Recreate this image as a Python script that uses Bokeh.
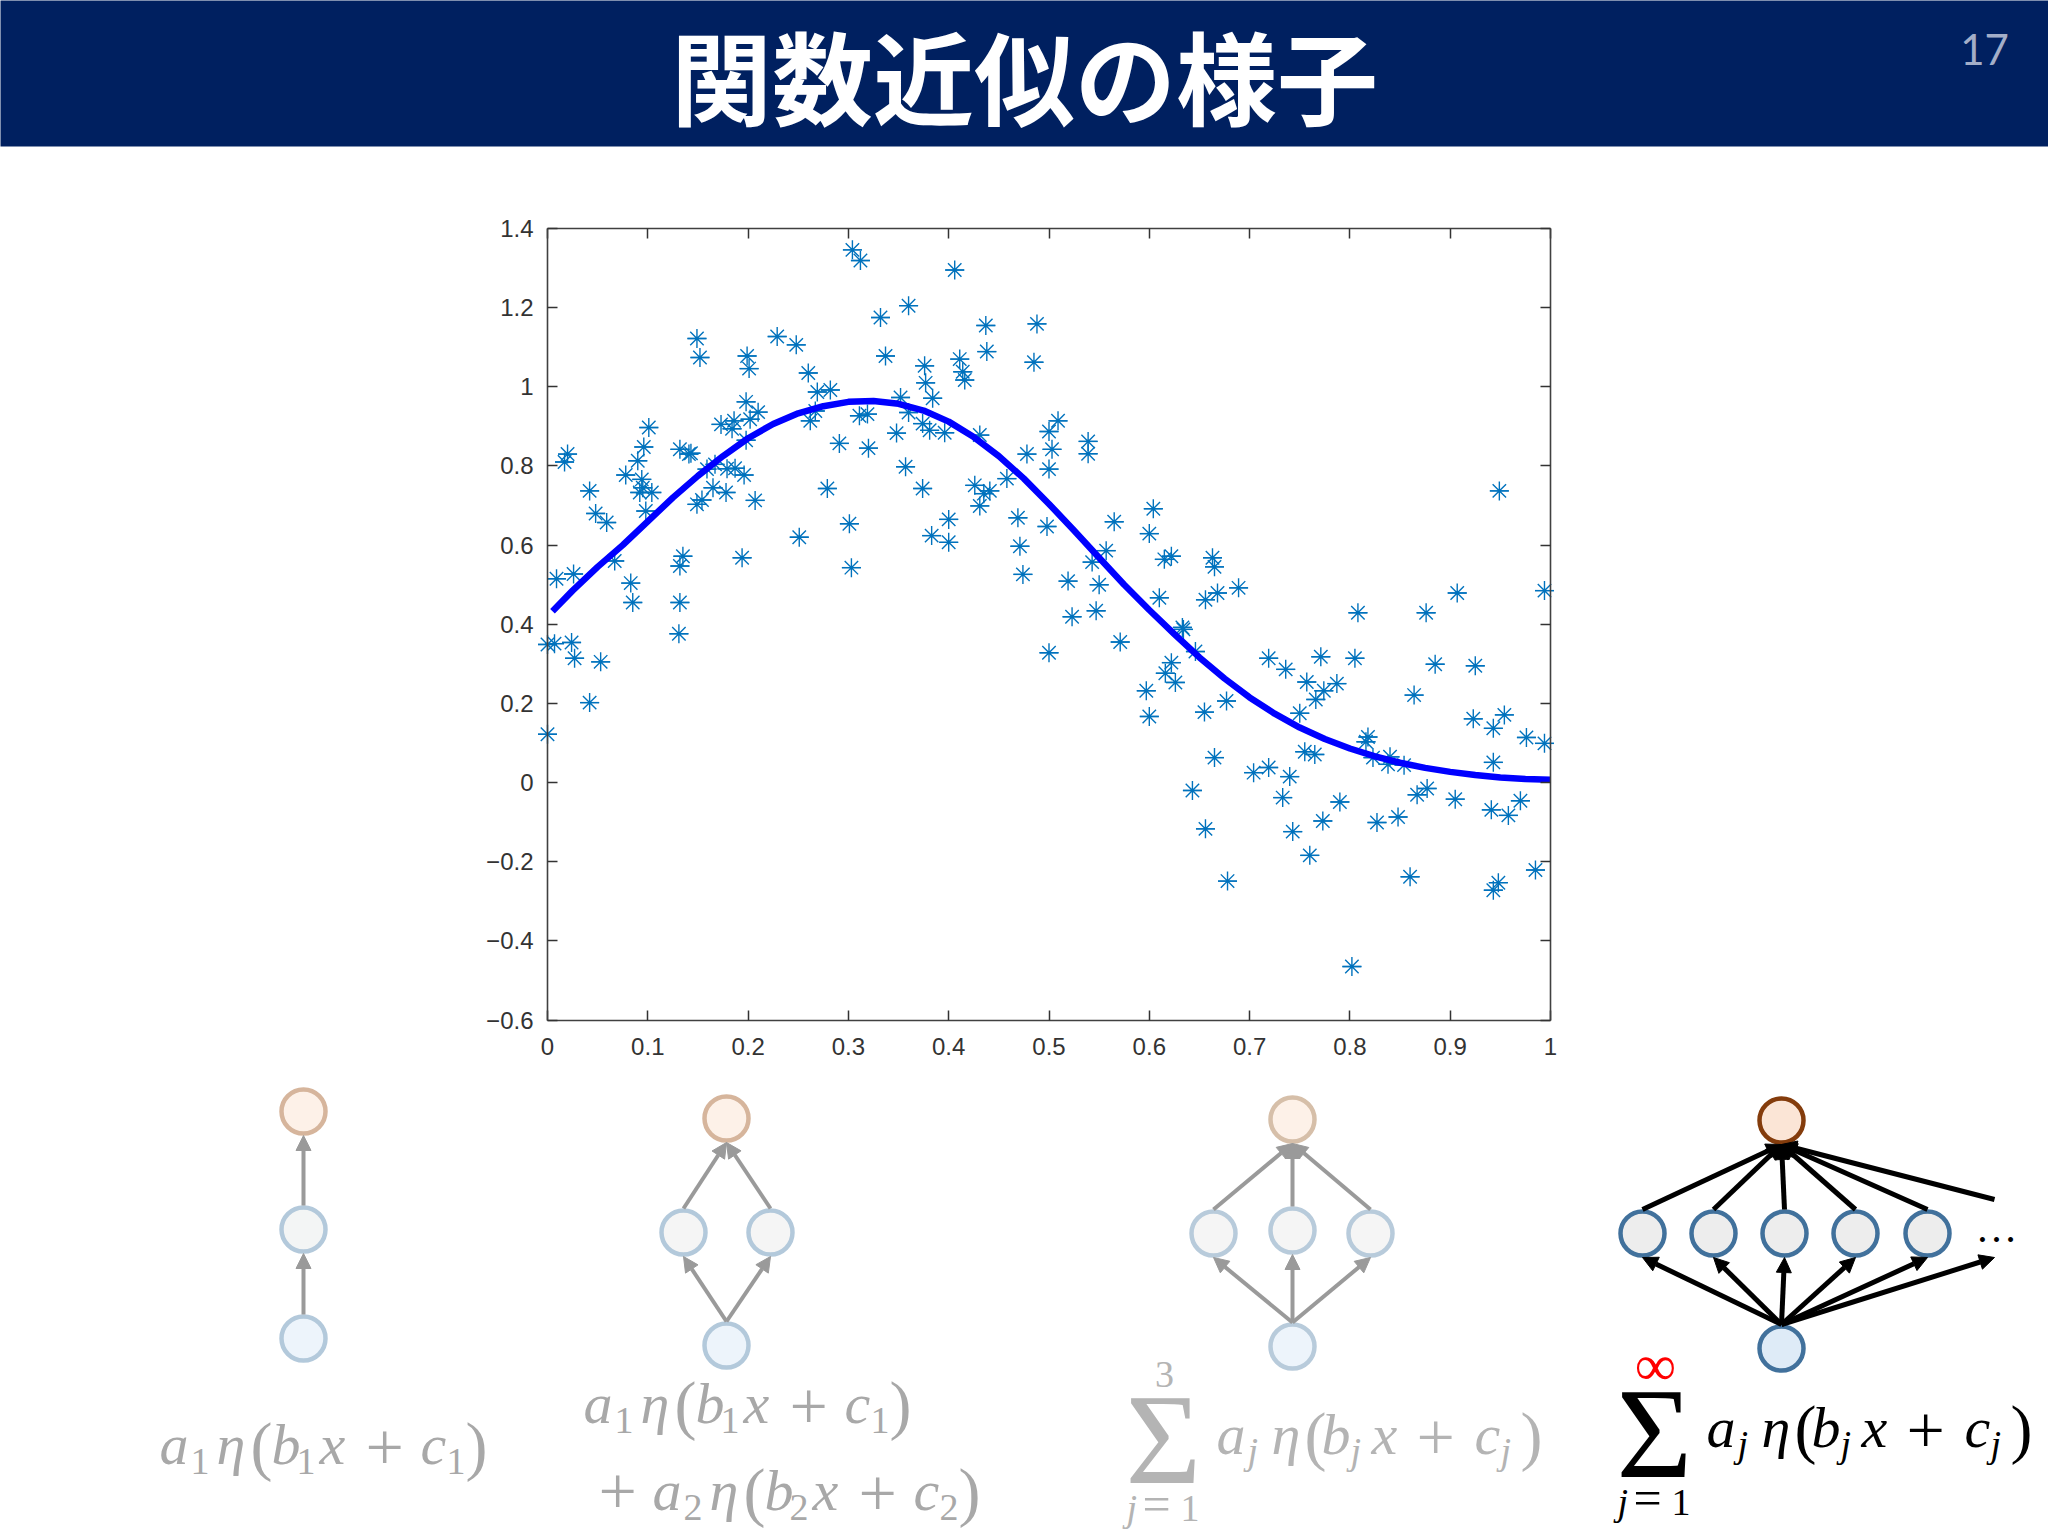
from bokeh.core.properties import value
from bokeh.embed import file_html
from bokeh.resources import INLINE
from bokeh.plotting import figure
from bokeh.models import (Range1d, LinearAxis, FixedTicker, Arrow, NormalHead)

# ---- data ----
scatter_x = [.304,.312,.406,.360,.332,.437,.488,.149,.152,.229,.248,.199,.201,.337,.438,.485,.411,.414,.416,.376,
 .377,.384,.260,.269,.282,.352,.198,.210,.202,.173,.186,.184,.101,.267,.262,.311,.319,.360,.374,.381,
 .396,.348,.431,.198,.291,.320,.096,.132,.143,.141,.020,.017,.090,.478,.167,.159,.179,.187,.357,.196,
 .078,.094,.458,.042,.092,.104,.095,.165,.178,.279,.374,.426,.435,.441,.207,.154,.149,.431,.098,.048,
 .059,.400,.469,.301,.251,.383,.400,.471,.067,.135,.132,.194,.026,.009,.303,.474,.083,.085,.132,.131,
 0,.007,.024,.027,.053,.042,0,.509,.500,.503,.500,.539,.539,.498,.565,.604,.600,.557,.543,.519,
 .550,.615,.622,.663,.665,.668,.689,.656,.610,.907,.949,.994,.523,.547,.500,.571,.808,.876,.633,.634,
 .646,.622,.616,.626,.597,.600,.655,.677,.719,.736,.771,.805,.885,.925,.757,.787,.774,.766,.864,.750,
 .923,.954,.943,.976,.994,.818,.816,.823,.840,.838,.854,.755,.765,.665,.943,.719,.704,.740,.877,.867,
 .643,.733,.905,.790,.970,.941,.958,.848,.827,.773,.656,.743,.760,.985,.860,.678,.948,.943,.802]
scatter_y = [1.346,1.319,1.295,1.205,1.175,1.155,1.159,1.122,1.074,1.127,1.106,1.078,1.046,1.078,1.089,1.062,1.070,1.038,1.017,1.053,
 1.010,.971,1.035,.987,.992,.973,.962,.936,.918,.905,.914,.894,.897,.939,.914,.927,.931,.935,.907,.890,
 .884,.883,.878,.865,.857,.845,.848,.842,.832,.830,.830,.810,.813,.830,.804,.792,.793,.794,.798,.777,
 .777,.766,.768,.737,.733,.733,.745,.745,.733,.743,.743,.751,.730,.737,.713,.714,.703,.699,.686,.680,
 .657,.665,.669,.654,.620,.624,.607,.597,.560,.572,.547,.568,.527,.515,.543,.526,.504,.455,.455,.376,
 .349,.351,.354,.314,.305,.202,.122,.914,.887,.842,.792,.862,.831,.647,.659,.692,.629,.586,.557,.509,
 .500,.564,.572,.568,.545,.479,.492,.462,.467,.479,.737,.485,.419,.434,.328,.355,.429,.429,.392,.387,
 .331,.303,.276,.253,.232,.167,.178,.206,.314,.286,.318,.314,.299,.295,.254,.250,.232,.210,.221,.175,
 .161,.171,.137,.114,.099,.115,.103,.063,.065,.046,.044,.078,.071,.063,.051,.038,.025,.015,-.015,-.031,
 -.020,-.038,-.042,-.049,-.046,-.069,-.083,-.087,-.101,-.097,-.117,-.124,-.184,-.221,-.238,-.249,-.253,-.272,-.465]

curve_x = [.005,.025,.05,.075,.1,.125,.15,.175,.2,.225,.25,.275,.3,.325,.35,.375,.4,.425,.45,.475,.5,.525,.55,.575,.6,.625,.65,.675,.7,.725,.75,.775,.8,.825,.85,.875,.9,.925,.95,.975,1.0]
curve_y = [.433,.485,.545,.60,.66,.72,.775,.825,.87,.906,.933,.951,.962,.964,.957,.94,.912,.873,.825,.768,.704,.637,.568,.50,.436,.375,.316,.263,.215,.174,.139,.110,.086,.066,.050,.037,.027,.019,.013,.009,.007]

x_ticks = [0,.1,.2,.3,.4,.5,.6,.7,.8,.9,1]
x_tick_labels = ["0","0.1","0.2","0.3","0.4","0.5","0.6","0.7","0.8","0.9","1"]
y_ticks = [-.6,-.4,-.2,0,.2,.4,.6,.8,1,1.2,1.4]
y_tick_labels = ["\u22120.6","\u22120.4","\u22120.2","0","0.2","0.4","0.6","0.8","1","1.2","1.4"]

title_text = "関数近似の様子"
page_number = "17"

# network diagrams: node centres (input, hidden list, output), in page pixels
net_cols = [303, 726, 1292, 1781]
net_input_y = [1338, 1345, 1346, 1348]
net_output_y = [1111, 1118, 1119, 1120]
net_hidden_x = [[303], [683, 770], [1213, 1292, 1370], [1642, 1713, 1784, 1855, 1927]]
net_hidden_y = [[1229], [1232, 1232], [1233, 1230, 1233], [1233, 1233, 1233, 1233, 1233]]

# ---- page layout ----
W, H = 2048, 1536
AX_L, AX_R, AX_T, AX_B = 547, 1550, 228, 1019.5
XMIN, XMAX, YMIN, YMAX = 0, 1, -0.6, 1.4
sx = (AX_R - AX_L) / (XMAX - XMIN)
sy = (AX_B - AX_T) / (YMAX - YMIN)

p = figure(width=W, height=H, output_backend="svg", toolbar_location=None,
           x_range=Range1d(XMIN - AX_L / sx, XMIN + (W - AX_L) / sx),
           y_range=Range1d(YMAX - (H - AX_T) / sy, YMAX + AX_T / sy),
           x_axis_location=None, y_axis_location=None,
           min_border=0, outline_line_color=None, margin=0)
p.xgrid.visible = False
p.ygrid.visible = False
p.extra_x_ranges["px"] = Range1d(0, W)
p.extra_y_ranges["px"] = Range1d(H, 0)
PX = dict(x_range_name="px", y_range_name="px")

# ---- header ----
p.quad(left=[-10], right=[W + 10], top=[-10], bottom=[146], fill_color="#002060", line_color=None, **PX)
p.text(x=[1024], y=[73], text=[title_text], text_color="white", text_font=value("Noto Sans CJK JP"),
       text_font_style="bold", text_font_size="101px", text_align="center", text_baseline="middle", **PX)
p.text(x=[1984], y=[49], text=[page_number], text_color="#a3aec8", text_font=value("Lato"),
       text_font_size="42px", text_align="center", text_baseline="middle", **PX)

# ---- chart ----
STAR = "#0072bd"
p.scatter(scatter_x, scatter_y, marker="asterisk", size=19, line_color=STAR, line_width=1.4, fill_color=None)
p.scatter(scatter_x, scatter_y, marker="dash", size=19, line_color=STAR, line_width=1.4, fill_color=None)
p.line(curve_x, curve_y, line_color="#0000ff", line_width=6.5, line_join="round")

axis_style = dict(axis_line_color="#404040", axis_line_width=1.6, major_tick_line_color="#333333",
                  major_tick_line_width=1.5, major_tick_in=10, major_tick_out=0,
                  minor_tick_line_color=None, major_label_text_font="Liberation Sans",
                  major_label_text_font_size="24px", major_label_text_color="#333333")
def add_axis(side, loc, ticks, labels, bounds):
    ax = LinearAxis(fixed_location=loc, ticker=FixedTicker(ticks=ticks), bounds=bounds, **axis_style)
    if labels is None:
        ax.major_label_text_color = None
        ax.major_label_text_font_size = "1px"
    else:
        ax.major_label_overrides = dict(zip(ticks, labels))
    p.add_layout(ax, side)
    return ax

bx = add_axis("below", YMIN, x_ticks, x_tick_labels, (XMIN, XMAX))
bx.major_label_standoff = 18
ly = add_axis("left", XMIN, y_ticks, y_tick_labels, (YMIN, YMAX))
ly.major_label_standoff = 14
add_axis("above", YMAX, x_ticks, None, (XMIN, XMAX))
add_axis("right", XMAX, y_ticks, None, (YMIN, YMAX))

# ---- networks ----
R = 24
def arrow(x0, y0, x1, y1, color, lw):
    head = NormalHead(size=15, fill_color=color, line_color=color, line_width=1)
    p.add_layout(Arrow(end=head, x_start=x0, y_start=y0, x_end=x1, y_end=y1,
                       line_color=color, line_width=lw, **PX))

styles = [
    dict(arrow="#9a9a9a", lw=4, top=("#fdf1e8", "#d6b59c"), mid=("#f3f5f5", "#b3c9db"), bot=("#edf4fb", "#b3c9db"), lwn=4.5),
    dict(arrow="#9a9a9a", lw=4, top=("#fdf1e8", "#d6b59c"), mid=("#f5f5f5", "#b3c9db"), bot=("#edf4fb", "#b3c9db"), lwn=4.5),
    dict(arrow="#9a9a9a", lw=4, top=("#fdf1e8", "#d6bfa9"), mid=("#f5f5f5", "#b8cbdb"), bot=("#edf4fb", "#b8cbdb"), lwn=4.5),
    dict(arrow="#000000", lw=5, top=("#fbe5d6", "#843c0c"), mid=("#ededed", "#41719c"), bot=("#deebf7", "#41719c"), lwn=4.5),
]
for cx, iy, oy, hx, hy, st in zip(net_cols, net_input_y, net_output_y, net_hidden_x, net_hidden_y, styles):
    for mx, my in zip(hx, hy):
        arrow(cx, iy - R, mx, my + R, st["arrow"], st["lw"])
        arrow(mx, my - R, cx, oy + R, st["arrow"], st["lw"])
    p.scatter([cx], [oy], marker="circle", size=2 * R - 4, fill_color=st["top"][0], line_color=st["top"][1], line_width=st["lwn"], **PX)
    p.scatter(hx, hy, marker="circle", size=2 * R - 4, fill_color=st["mid"][0], line_color=st["mid"][1], line_width=st["lwn"], **PX)
    p.scatter([cx], [iy], marker="circle", size=2 * R - 4, fill_color=st["bot"][0], line_color=st["bot"][1], line_width=st["lwn"], **PX)

# open-ended connections of the last network
arrow(net_cols[3], net_input_y[3] - R, 1994, 1257, "#000000", 5)
arrow(1994, 1199, net_cols[3], net_output_y[3] + R, "#000000", 5)

# ---- formulas ----
K = 0.40  # text box offset of the alphabetic baseline, as a share of the font size
def glyph(x, y, s, color, size, italic=False):
    p.text(x=[x], y=[y - K * size], text=[s], text_color=color, text_font=value("Liberation Serif"),
           text_font_size=f"{size}px", text_font_style="italic" if italic else "normal",
           text_align="left", text_baseline="alphabetic", **PX)

glyph(1975, 1244, "\u2026", "#000000", 42)

def term(x, y, c, a, b, cs, sub, off):
    sub_it = sub == "j"
    glyph(x + off[0], y, a, c, 58, True)
    glyph(x + off[1], y + 9, sub, c, 38, sub_it)
    glyph(x + off[2], y, "η", c, 58, True)
    glyph(x + off[3], y + 4, "(", c, 66)
    glyph(x + off[4], y, b, c, 58, True)
    glyph(x + off[5], y + 9, sub, c, 38, sub_it)
    glyph(x + off[6], y, "x", c, 58, True)
    glyph(x + off[7], y + 8, "+", c, 68)
    glyph(x + off[8], y, cs, c, 58, True)
    glyph(x + off[9], y + 9, sub, c, 38, sub_it)
    glyph(x + off[10], y + 4, ")", c, 66)

OFF_NUM = [0, 31, 57, 91, 112, 137, 160, 206, 261, 287, 306]
OFF_J = [0, 31, 55, 88, 105, 134, 155, 200, 258, 284, 304]
GREY, GREY2 = "#a8a8a8", "#b4b4b4"

term(159, 1467, GREY, "a", "b", "c", "1", OFF_NUM)
term(583, 1426, GREY, "a", "b", "c", "1", OFF_NUM)
glyph(598, 1519, "+", GREY, 68)
term(652, 1513, GREY, "a", "b", "c", "2", OFF_NUM)
term(1216, 1457, GREY2, "a", "b", "c", "j", OFF_J)
term(1706, 1450, "#000000", "a", "b", "c", "j", OFF_J)

def summation(x, y, top, top_dy, top_size, top_color, color):
    glyph(x - 1, y + 7, "Σ", color, 130)
    p.text(x=[x + 38], y=[y - top_dy], text=[top], text_color=top_color, text_font=value("Liberation Serif"),
           text_font_size=f"{top_size}px", text_align="center", text_baseline="middle", **PX)
    glyph(x, y + 40, "j", color, 38, True)
    glyph(x + 16, y + 40, "=", color, 50)
    glyph(x + 54, y + 40, "1", color, 38)

summation(1126, 1483, "3", 109, 38, GREY2, GREY2)
summation(1617, 1477, "∞", 112, 58, "#ff0000", "#000000")

open("out.html", "w").write(file_html(p, INLINE))
